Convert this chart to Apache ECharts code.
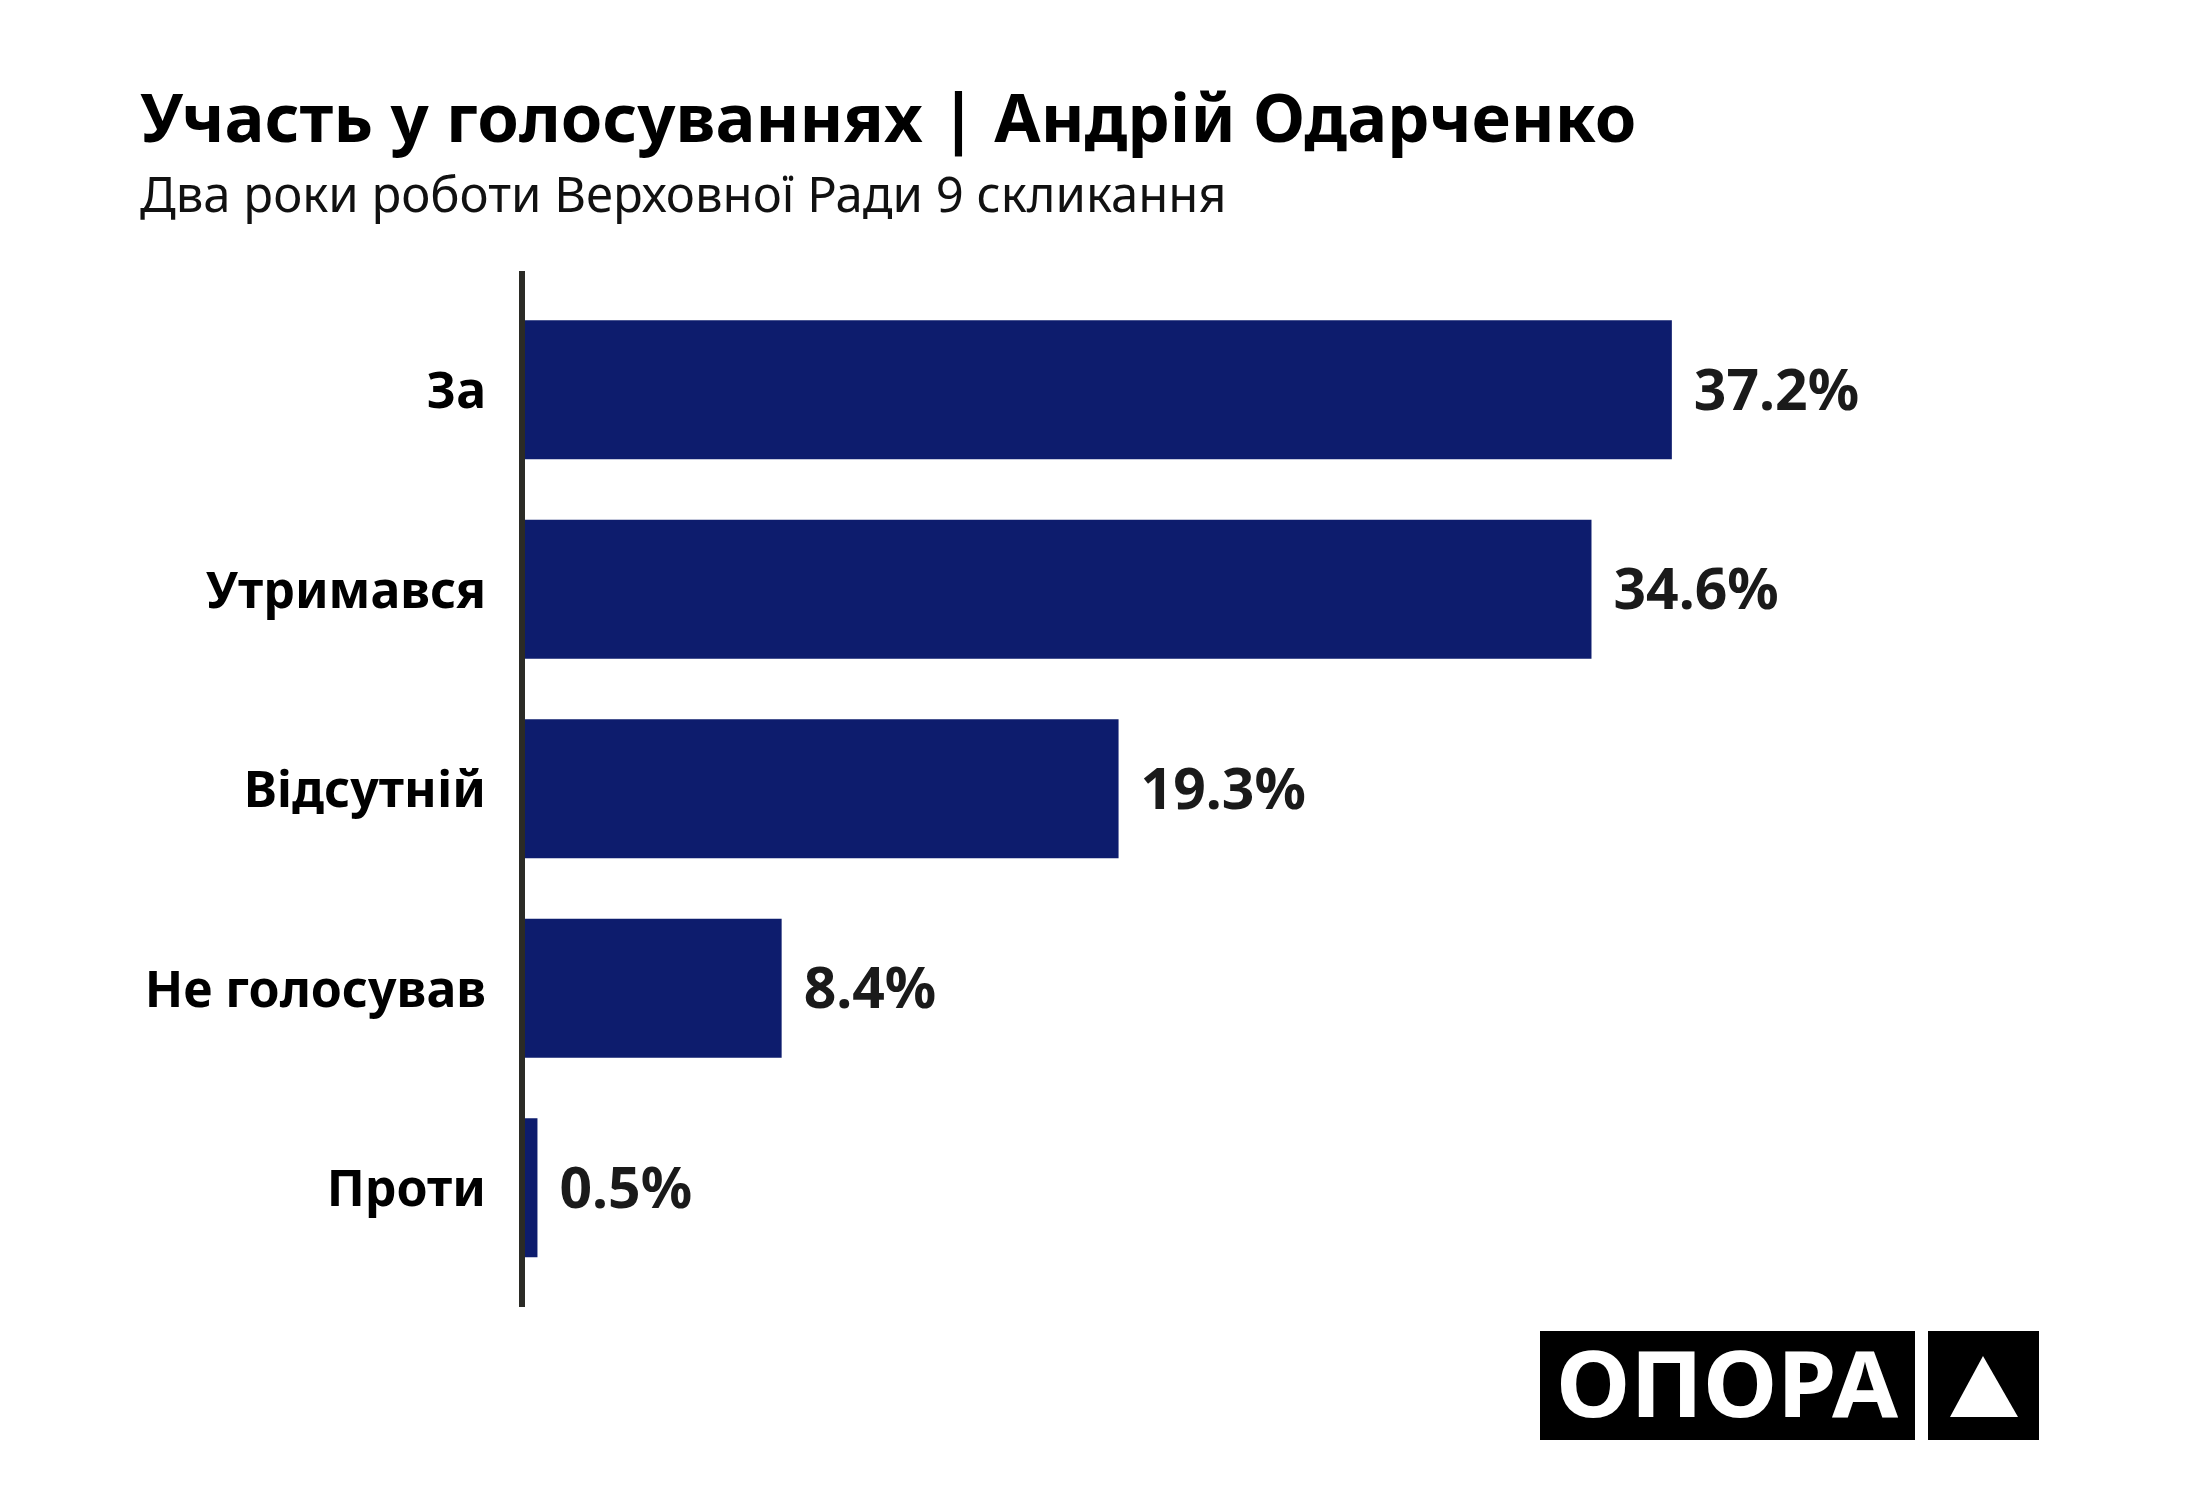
<!DOCTYPE html>
<html lang="uk">
<head>
    <meta charset="UTF-8">
    <title>Участь у голосуваннях</title>
    <style>
        * {
            margin: 0px;
            padding: 0px;
        }

        #main {
            width: 2200px;
            height: 1500px;
            background-color: #ffffff;
        }
    </style>
</head>
<body>
<div id="main"></div>

<script src="https://cdn.jsdelivr.net/npm/echarts@6/dist/echarts.min.js"></script>
<script type="text/javascript">
    // дані
    var categories = ['За', 'Утримався', 'Відсутній', 'Не голосував', 'Проти'];
    var shares = [37.2, 34.6, 19.3, 8.4, 0.5];

    var FONT = '"Noto Sans", "DejaVu Sans", sans-serif';

    var myChart = echarts.init(document.getElementById('main'));

    myChart.setOption({
        backgroundColor: '#ffffff',
        animation: false,
        title: {
            text: 'Участь у голосуваннях | Андрій Одарченко',
            subtext: 'Два роки роботи Верховної Ради 9 скликання',
            left: 135,
            top: 84,
            itemGap: 18,
            textStyle: {
                fontFamily: FONT,
                fontSize: 67,
                fontWeight: 'bold',
                color: '#000000'
            },
            subtextStyle: {
                fontFamily: FONT,
                fontSize: 49,
                color: '#111111'
            }
        },
        grid: {
            left: 522,
            top: 290,
            width: 1236.4,
            height: 997.5
        },
        xAxis: {
            type: 'value',
            min: 0,
            max: 40,
            show: false
        },
        yAxis: {
            type: 'category',
            data: categories,
            inverse: true,
            axisLine: {show: false},
            axisTick: {show: false},
            axisLabel: {
                margin: 36,
                verticalAlign: 'top',
                lineHeight: 8,
                fontFamily: FONT,
                fontSize: 50,
                fontWeight: 'bold',
                color: '#000000'
            }
        },
        series: [
            {
                type: 'bar',
                data: shares,
                barWidth: 139,
                itemStyle: {color: '#0d1c6d'},
                label: {
                    show: true,
                    position: 'right',
                    distance: 22,
                    offset: [0, 4],
                    formatter: '{c}%',
                    fontFamily: FONT,
                    fontSize: 57,
                    fontWeight: 'bold',
                    color: '#1a1a1a'
                }
            }
        ],
        graphic: [
            // вертикальна вісь
            {
                type: 'line',
                z: 100,
                shape: {x1: 522, y1: 271, x2: 522, y2: 1307},
                style: {stroke: '#2b2b26', lineWidth: 6}
            },
            // логотип
            {
                type: 'rect',
                shape: {x: 1540, y: 1331, width: 375, height: 109},
                style: {fill: '#000000'}
            },
            {
                type: 'rect',
                shape: {x: 1928, y: 1331, width: 111, height: 109},
                style: {fill: '#000000'}
            },
            {
                type: 'text',
                x: 1727,
                y: 1391,
                scaleX: 1.05,
                style: {
                    text: 'ОПОРА',
                    x: 0,
                    y: 0,
                    align: 'center',
                    verticalAlign: 'middle',
                    fill: '#ffffff',
                    font: 'bold 91px ' + FONT
                }
            },
            {
                type: 'polygon',
                shape: {points: [[1983, 1356], [2018, 1417], [1950, 1417]]},
                style: {fill: '#ffffff'}
            }
        ]
    });
</script>
</body>
</html>
